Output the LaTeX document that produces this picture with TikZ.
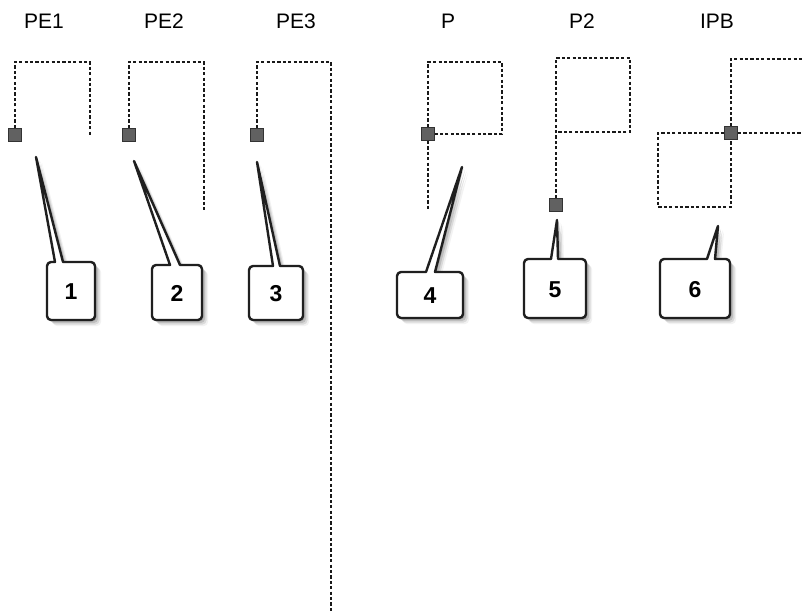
\documentclass[tikz,border=0pt]{standalone}
\usepackage{fontspec}
\setmainfont{Liberation Sans}
\usetikzlibrary{shadows}
\tikzset{
  dotline/.style={line width=1.1pt, dash pattern=on 3.2pt off 2.2pt, draw=black!90},
  sq/.style={draw=black!80, fill=black!62, line width=0.9pt, minimum size=13pt, inner sep=0pt},
  calloutbox/.style={draw=black!88, fill=white, line width=2.4pt, line join=round,
    drop shadow={shadow xshift=1.5pt, shadow yshift=-1.5pt, opacity=0.35},
    drop shadow={shadow xshift=3pt, shadow yshift=-3pt, opacity=0.3},
    drop shadow={shadow xshift=4.5pt, shadow yshift=-4.5pt, opacity=0.2},
    drop shadow={shadow xshift=6pt, shadow yshift=-6pt, opacity=0.1}},
  lbl/.style={font=\fontsize{21}{24}\selectfont, inner sep=0pt},
  num/.style={font=\fontsize{23}{26}\selectfont\bfseries, inner sep=0pt}
}
\newcommand\mycallout[9]{%
  \coordinate (#1tip) at #8;
  \draw[calloutbox] (#6,#3) -- (#1tip) -- (#7,#3) [rounded corners=4pt] -- (#4,#3) -- (#4,#5) -- (#2,#5) -- (#2,#3) [sharp corners] -- cycle;
  \node[num] (#1) at ({(#2+#4)/2},{(#3+#5)/2+1}) {#9};
}
\begin{document}
\begin{tikzpicture}[x=1pt,y=-1pt]
\useasboundingbox (0,0) rectangle (803,612);
\clip (0,0) rectangle (803,612);
\fill[white] (0,0) rectangle (803,612);
% labels
\node[lbl] (lPE1) at (44,21) {PE1};
\node[lbl] (lPE2) at (164,21) {PE2};
\node[lbl] (lPE3) at (296,21) {PE3};
\node[lbl] (lP) at (448,21) {P};
\node[lbl] (lP2) at (582,21) {P2};
\node[lbl] (lIPB) at (717,21) {IPB};
% squares
\node[sq] (s1) at (15,135) {};
\node[sq] (s2) at (129,135) {};
\node[sq] (s3) at (257,135) {};
\node[sq] (s4) at (428,134) {};
\node[sq] (s5) at (556,205) {};
\node[sq] (s6) at (731,133) {};
% dotted paths
\draw[dotline] (s1.north) -- (15,62) -- (90,62) -- (90,136);
\draw[dotline] (s2.north) -- (129,62) -- (204,62) -- (204,210);
\draw[dotline] (s3.north) -- (257,62) -- (331,62) -- (331,612);
\draw[dotline] (s4.north) -- (428,62) -- (502,62) -- (502,134) -- (s4.east);
\draw[dotline] (s4.south) -- (428,209);
\draw[dotline] (s5.north) -- (556,132) -- (556,58) -- (630,58) -- (630,132) -- (556,132);
\draw[dotline] (s6.north) -- (731,59) -- (810,59);
\draw[dotline] (s6.east) -- (810,133);
\draw[dotline] (s6.west) -- (658,133) -- (658,207) -- (731,207) -- (s6.south);
% callouts
\mycallout{c1}{47}{262}{95}{320}{55}{63}{(36,157)}{1}
\mycallout{c2}{152}{265}{202}{320}{170}{180}{(134,161)}{2}
\mycallout{c3}{249}{266}{303}{320}{273}{280}{(257,162)}{3}
\mycallout{c4}{397}{272}{463}{318}{426}{435}{(462,167)}{4}
\mycallout{c5}{524}{259}{586}{318}{551}{558}{(557,220)}{5}
\mycallout{c6}{660}{259}{730}{318}{707}{715}{(718,226)}{6}
\end{tikzpicture}
\end{document}
